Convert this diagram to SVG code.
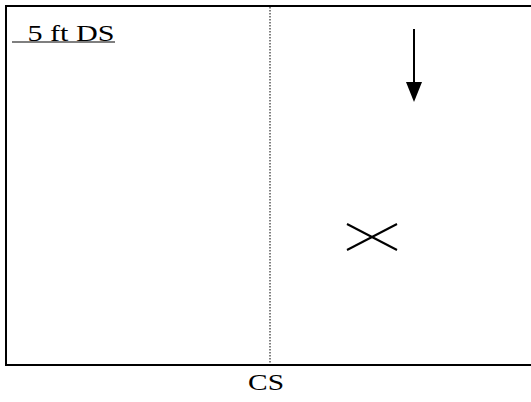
<svg xmlns="http://www.w3.org/2000/svg" width="531" height="402" viewBox="0 0 531 402">
  <style>
    .frame { fill: none; stroke: #000; stroke-width: 2; }
    .centre { stroke: #000; stroke-width: 1; stroke-dasharray: 1.5 1.5; }
    .mark { stroke: #000; stroke-width: 2; fill: none; }
    .label { font-family: "Liberation Serif", "Times New Roman", serif; font-size: 23px; fill: #000; }
  </style>
  <rect id="field" class="frame" x="6" y="6" width="540" height="359"/>
  <g id="connectors">
    <line class="centre" x1="270" y1="7" x2="270" y2="364"/>
  </g>
  <g id="arrow">
    <line class="mark" x1="414" y1="29" x2="414" y2="84"/>
    <polygon points="406,82 422,82 414,102" fill="#000"/>
  </g>
  <g id="cross">
    <line class="mark" x1="347" y1="224" x2="397" y2="250"/>
    <line class="mark" x1="347" y1="250" x2="397" y2="224"/>
  </g>
  <g id="label-ds">
    <line x1="12" y1="42" x2="115" y2="42" stroke="#000" stroke-width="1.2"/>
    <text class="label" x="27.5" y="40.5" textLength="87" lengthAdjust="spacingAndGlyphs">5 ft DS</text>
  </g>
  <g id="label-cs">
    <text class="label" x="248" y="390" textLength="36" lengthAdjust="spacingAndGlyphs">CS</text>
  </g>
</svg>
